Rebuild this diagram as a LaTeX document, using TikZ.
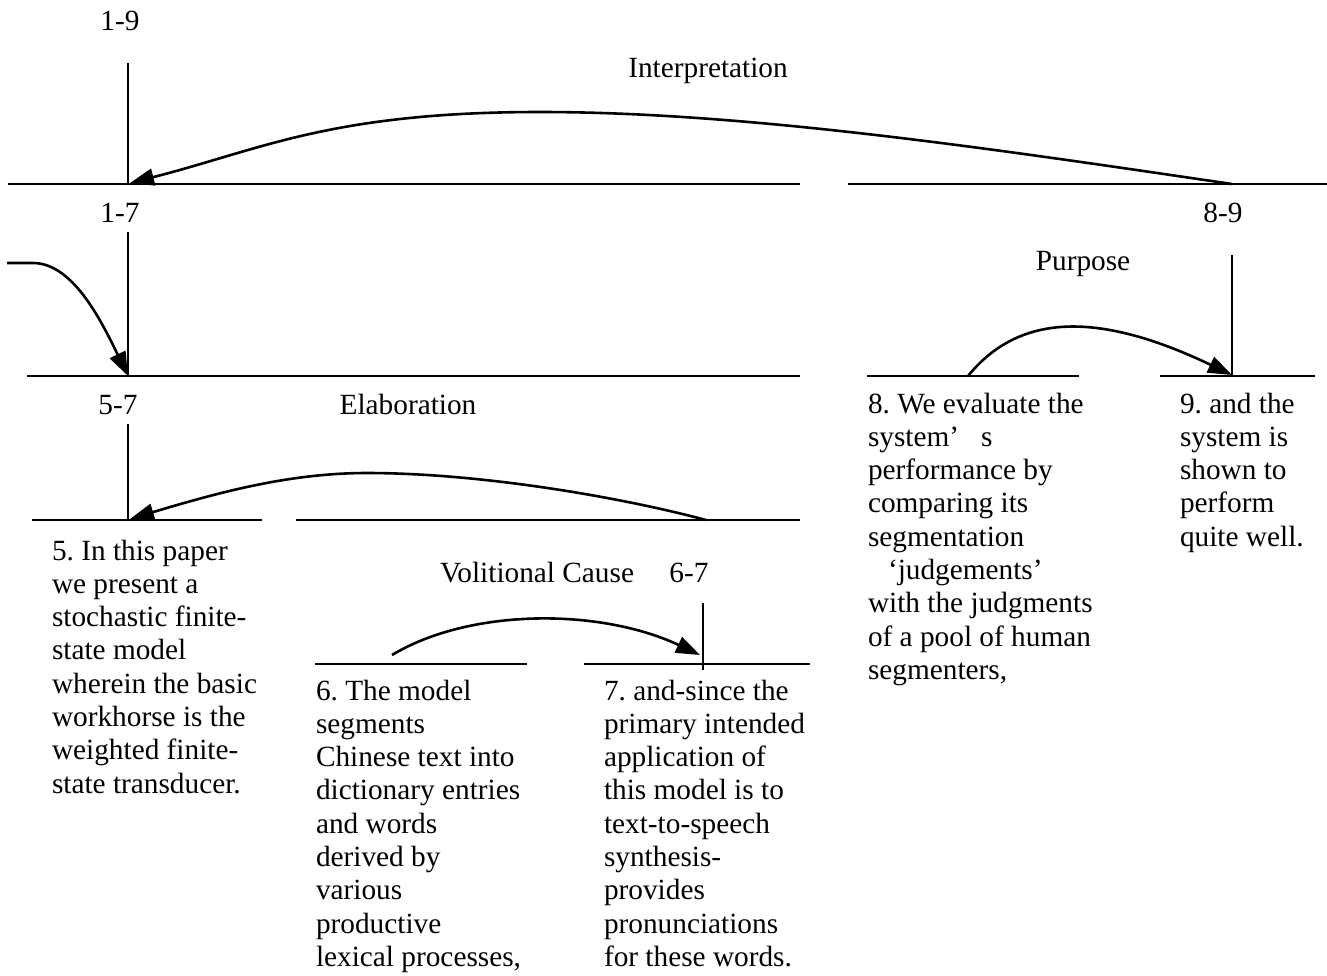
\documentclass[tikz,border=0pt]{standalone}
\usepackage{fontspec}
\setmainfont{Liberation Serif}
\usetikzlibrary{arrows.meta}
\frenchspacing
\begin{document}
\begin{tikzpicture}[x=1pt,y=-1pt,
  txt/.style={font=\fontsize{29.3}{33.3}\selectfont, inner sep=0pt, outer sep=0pt},
  lbl/.style={txt, anchor=base},
  para/.style={txt, anchor=north west, align=left},
  seg/.style={line width=1.6pt},
  rel/.style={line width=2.6pt, -{Triangle[length=24pt,width=17pt]}}]
\useasboundingbox (0,0) rectangle (1327,975);

% labels
\node[lbl] (l19) at (120,30) {1-9};
\node[lbl] (interp) at (708,77) {Interpretation};
\node[lbl] (l17) at (120,222) {1-7};
\node[lbl] (l89) at (1223,222) {8-9};
\node[lbl] (purp) at (1083,270) {Purpose};
\node[lbl] (l57) at (118,414) {5-7};
\node[lbl] (elab) at (408,414) {Elaboration};
\node[lbl] (volc) at (537,582) {Volitional Cause};
\node[lbl] (l67) at (689,582) {6-7};

% paragraphs (north = first baseline - 23.3)
\node[para] (t5) at (52,536.7) {\strut 5. In this paper\\we present a\\stochastic finite-\\state model\\wherein the basic\\workhorse is the\\weighted finite-\\state transducer.};
\node[para] (t6) at (316,676.7) {\strut 6. The model\\segments\\Chinese text into\\dictionary entries\\and words\\derived by\\various\\productive\\lexical processes,};
\node[para] (t7) at (604,676.7) {\strut 7. and-since the\\primary intended\\application of\\this model is to\\text-to-speech\\synthesis-\\provides\\pronunciations\\for these words.};
\node[para] (t8) at (868,389.7) {\strut 8. We evaluate the\\system’\hspace{22pt}s\\performance by\\comparing its\\segmentation\\\hspace*{20pt}‘judgements’\\with the judgments\\of a pool of human\\segmenters,};
\node[para] (t9) at (1180,389.7) {\strut 9. and the\\system is\\shown to\\perform\\quite well.};

% coordinates of the tree
\coordinate (v1t) at (128,63);   \coordinate (v1b) at (128,184);
\coordinate (h1a) at (8,184);    \coordinate (h1b) at (800,184);
\coordinate (h1c) at (848,184);  \coordinate (h1d) at (1327,184);
\coordinate (v2t) at (128,232);  \coordinate (v2b) at (128,376);
\coordinate (h2a) at (27,376);   \coordinate (h2b) at (800,376);
\coordinate (v3t) at (128,424);  \coordinate (v3b) at (128,520);
\coordinate (h3a) at (32,520);   \coordinate (h3b) at (262,520);
\coordinate (h3c) at (296,520);  \coordinate (h3d) at (800,520);
\coordinate (v4t) at (703,603);  \coordinate (v4b) at (703,670);
\coordinate (h4a) at (315,664);  \coordinate (h4b) at (527,664);
\coordinate (h4c) at (584,664);  \coordinate (h4d) at (810,664);
\coordinate (v5t) at (1232,255); \coordinate (v5b) at (1232,376);
\coordinate (h5a) at (867,376);  \coordinate (h5b) at (1079,376);
\coordinate (h5c) at (1160,376); \coordinate (h5d) at (1315,376);

\draw[seg] (v1t) -- (v1b);
\draw[seg] (h1a) -- (h1b);
\draw[seg] (h1c) -- (h1d);
\draw[seg] (v2t) -- (v2b);
\draw[seg] (h2a) -- (h2b);
\draw[seg] (v3t) -- (v3b);
\draw[seg] (h3a) -- (h3b);
\draw[seg] (h3c) -- (h3d);
\draw[seg] (v4t) -- (v4b);
\draw[seg] (h4a) -- (h4b);
\draw[seg] (h4c) -- (h4d);
\draw[seg] (v5t) -- (v5b);
\draw[seg] (h5a) -- (h5b);
\draw[seg] (h5c) -- (h5d);

% relations
\coordinate (i0) at (1232,184);  \coordinate (ip) at (540,112); \coordinate (i1) at (130,183);
\draw[rel] (i0) .. controls (1000,150) and (750,112) .. (ip)
               .. controls (330,112) and (260,150) .. (i1);
\coordinate (c0) at (7,263);     \coordinate (c1) at (33,263); \coordinate (c2) at (128,376);
\draw[rel] (c0) -- (c1) .. controls (72,263) and (100,318) .. (c2);
\coordinate (e0) at (706,520);   \coordinate (ep) at (367,473); \coordinate (e1) at (130,519);
\draw[rel] (e0) .. controls (620,497) and (480,473) .. (ep)
               .. controls (290,473) and (220,492) .. (e1);
\coordinate (w0) at (392,655);   \coordinate (w1) at (700,655);
\draw[rel] (w0) .. controls (470,608) and (600,608) .. (w1);
\coordinate (p0) at (968,376);   \coordinate (p1) at (1232,375);
\draw[rel] (p0) .. controls (1020,312) and (1100,312) .. (p1);
\end{tikzpicture}
\end{document}
